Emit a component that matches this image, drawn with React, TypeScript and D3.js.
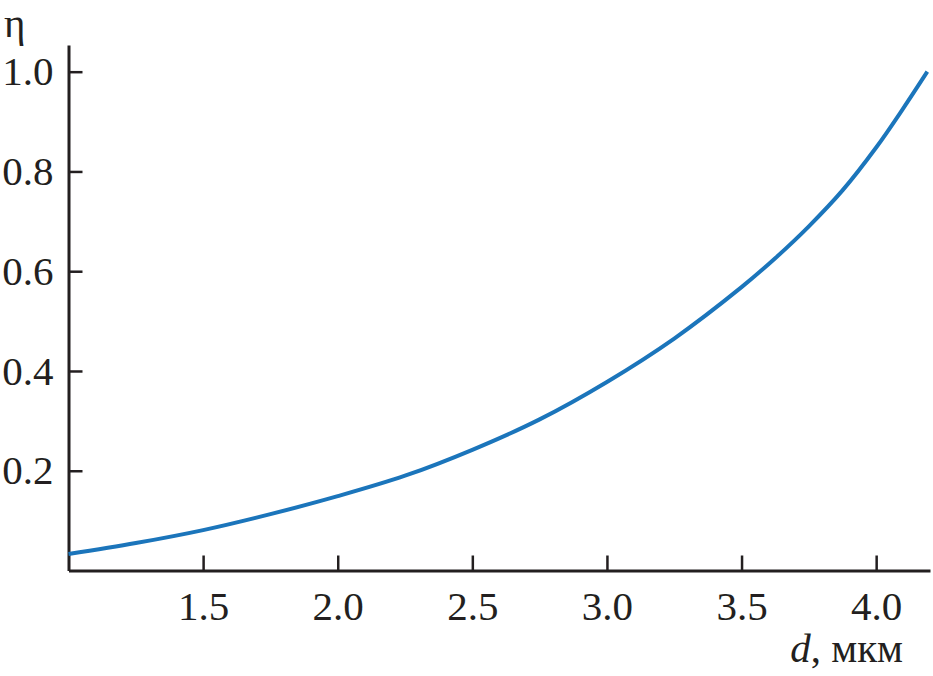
import React from 'react';
import * as d3 from 'd3';

// thickness d, um
const thickness = [1.0, 1.25, 1.5, 1.75, 2.0, 2.25, 2.5, 2.75, 3.0, 3.25, 3.5, 3.625, 3.75, 3.875, 4.0, 4.1, 4.19];
// efficiency eta
const eta = [0.033, 0.055, 0.081, 0.113, 0.149, 0.19, 0.242, 0.303, 0.378, 0.465, 0.568, 0.626, 0.69, 0.762, 0.848, 0.926, 1.0];

const xTicks = [1.5, 2.0, 2.5, 3.0, 3.5, 4.0];
const yTicks = [0.2, 0.4, 0.6, 0.8, 1.0];

export default class App extends React.Component {
  sizing = {
    width: 933,
    height: 676,
    left: 68.5,
    right: 930,
    top: 45,
    bottom: 570.5,
  };

  textStyle = {
    color: '#231f20',
    font: '"Liberation Serif", "Times New Roman", serif',
    size: '41px',
  };

  svgRef = React.createRef<SVGSVGElement>();

  setupDom(): void {
    const svgNode = this.svgRef.current;
    if (!svgNode) return;
    while (svgNode.firstChild) svgNode.removeChild(svgNode.firstChild);

    const {left, right, top, bottom} = this.sizing;

    const xScale = d3.scaleLinear().domain([1.0, 4.2]).range([left, right]);
    const yScale = d3.scaleLinear().domain([0, 1.0535]).range([bottom, top]);

    const svg = d3.select(svgNode);

    const xAxis = svg.append('g')
      .attr('transform', `translate(0, ${bottom})`)
      .call(d3.axisBottom(xScale)
        .tickValues(xTicks)
        .tickFormat(d3.format('.1f') as any)
        .tickSizeInner(-15)
        .tickSizeOuter(0)
        .tickPadding(20));

    const yAxis = svg.append('g')
      .attr('transform', `translate(${left}, 0)`)
      .call(d3.axisLeft(yScale)
        .tickValues(yTicks)
        .tickFormat(d3.format('.1f') as any)
        .tickSizeInner(-14)
        .tickSizeOuter(0)
        .tickPadding(15));

    [xAxis, yAxis].forEach(g => {
      g.select('.domain').attr('stroke', this.textStyle.color).attr('stroke-width', 3);
      g.selectAll('.tick line').attr('stroke', this.textStyle.color).attr('stroke-width', 2.5);
      g.selectAll('.tick text')
        .attr('fill', this.textStyle.color)
        .style('font-family', this.textStyle.font)
        .style('font-size', this.textStyle.size);
    });

    const points = thickness.map((d, i) => [d, eta[i]] as [number, number]);
    const line = d3.line<[number, number]>()
      .x(d => xScale(d[0]))
      .y(d => yScale(d[1]))
      .curve(d3.curveCatmullRom.alpha(0.5));

    svg.append('path')
      .datum(points)
      .attr('fill', 'none')
      .attr('stroke', '#1b75bb')
      .attr('stroke-width', 4)
      .attr('d', line);

    svg.append('text')
      .attr('x', 4)
      .attr('y', 37)
      .attr('fill', this.textStyle.color)
      .style('font-family', this.textStyle.font)
      .style('font-size', this.textStyle.size)
      .text('η');

    const xLabel = svg.append('text')
      .attr('x', 903)
      .attr('y', 662)
      .attr('text-anchor', 'end')
      .attr('fill', this.textStyle.color)
      .style('font-family', this.textStyle.font)
      .style('font-size', this.textStyle.size);
    xLabel.append('tspan').style('font-style', 'italic').text('d');
    xLabel.append('tspan').text(', мкм');
  }

  componentDidMount(): void {
    this.setupDom();
  }

  render(): React.ReactNode {
    const {width, height} = this.sizing;
    return (
      <svg
        ref={this.svgRef}
        width={width}
        height={height}
        style={{position: 'absolute', left: 0, top: 0, background: '#fff'}}
      />
    );
  }
}
